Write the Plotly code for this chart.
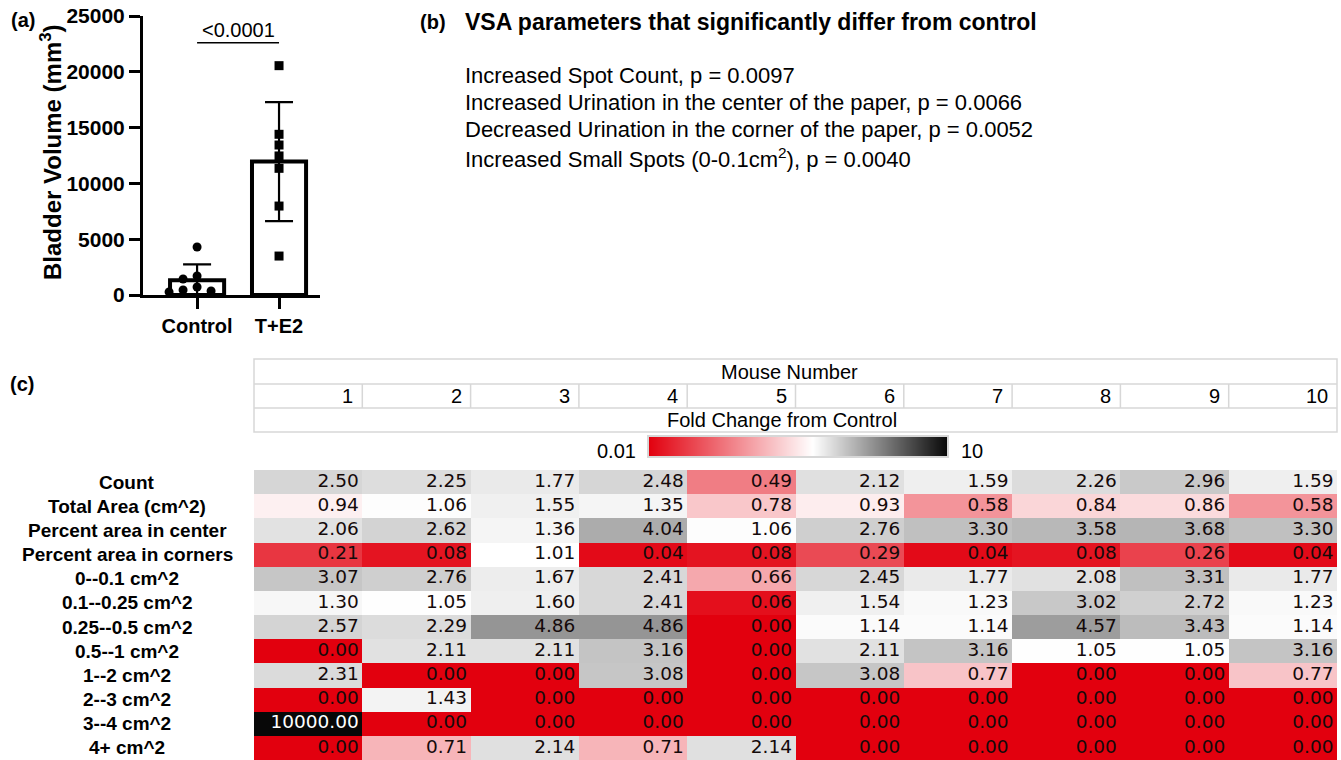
import numpy as np
import plotly.graph_objects as go

W, H = 1341, 760

# ---------------- data ----------------
GROUPS = ["Control", "T+E2"]
CONTROL_VOLUME = [4300, 1700, 1430, 720, 450, 360, 270]
TE2_VOLUME = [20550, 14400, 13440, 12460, 11350, 7970, 3490]
P_VALUE_LABEL = "<0.0001"
Y_TICKS = [0, 5000, 10000, 15000, 20000, 25000]

VSA_TITLE = "VSA parameters that significantly differ from control"
VSA_FINDINGS = [
    "Increased Spot Count, p = 0.0097",
    "Increased Urination in the center of the paper, p = 0.0066",
    "Decreased Urination in the corner of the paper, p = 0.0052",
    "Increased Small Spots (0-0.1cm<sup>2</sup>), p = 0.0040",
]

MOUSE_NUMBERS = ["1", "2", "3", "4", "5", "6", "7", "8", "9", "10"]
VSA_PARAMETERS = [
    "Count",
    "Total Area (cm^2)",
    "Percent area in center",
    "Percent area in corners",
    "0--0.1 cm^2",
    "0.1--0.25 cm^2",
    "0.25--0.5 cm^2",
    "0.5--1 cm^2",
    "1--2 cm^2",
    "2--3 cm^2",
    "3--4 cm^2",
    "4+ cm^2",
]
FOLD_CHANGE = [
    [2.50, 2.25, 1.77, 2.48, 0.49, 2.12, 1.59, 2.26, 2.96, 1.59],
    [0.94, 1.06, 1.55, 1.35, 0.78, 0.93, 0.58, 0.84, 0.86, 0.58],
    [2.06, 2.62, 1.36, 4.04, 1.06, 2.76, 3.30, 3.58, 3.68, 3.30],
    [0.21, 0.08, 1.01, 0.04, 0.08, 0.29, 0.04, 0.08, 0.26, 0.04],
    [3.07, 2.76, 1.67, 2.41, 0.66, 2.45, 1.77, 2.08, 3.31, 1.77],
    [1.30, 1.05, 1.60, 2.41, 0.06, 1.54, 1.23, 3.02, 2.72, 1.23],
    [2.57, 2.29, 4.86, 4.86, 0.00, 1.14, 1.14, 4.57, 3.43, 1.14],
    [0.00, 2.11, 2.11, 3.16, 0.00, 2.11, 3.16, 1.05, 1.05, 3.16],
    [2.31, 0.00, 0.00, 3.08, 0.00, 3.08, 0.77, 0.00, 0.00, 0.77],
    [0.00, 1.43, 0.00, 0.00, 0.00, 0.00, 0.00, 0.00, 0.00, 0.00],
    [10000.00, 0.00, 0.00, 0.00, 0.00, 0.00, 0.00, 0.00, 0.00, 0.00],
    [0.00, 0.71, 2.14, 0.71, 2.14, 0.00, 0.00, 0.00, 0.00, 0.00],
]
SCALE_LOW_LABEL, SCALE_HIGH_LABEL = "0.01", "10"

# ---------------- styling ----------------
ARIAL = "Liberation Sans, Arial, Helvetica, sans-serif"
VERDANA = "DejaVu Sans, Verdana, sans-serif"
RED = "rgb(226,0,14)"
BLACK = "rgb(8,8,8)"
GRID = "rgb(215,215,215)"


def fx(p):
    return p / W


def fy(p):
    return 1 - p / H


fig = go.Figure()

# ---------------- panel (a): bladder volume ----------------
A_LEFT, A_RIGHT, A_TOP, A_BOTTOM = 143, 320, 16, 295
A_XRANGE = [-0.66, 1.5]
A_YMAX = 25000
px_per_unit_y = (A_BOTTOM - A_TOP) / A_YMAX
units_per_px_x = (A_XRANGE[1] - A_XRANGE[0]) / (A_RIGHT - A_LEFT)


def swarm_offsets(values, diameter=9.0, step=7.0):
    """Greedy beeswarm: shift each dot sideways until it no longer overlaps."""
    placed, offs = [], []
    cands = sorted({k * step for k in range(-5, 6)}, key=lambda v: (abs(v), v))
    for v in values:
        ypx = v * px_per_unit_y
        chosen = cands[-1]
        for c in cands:
            if all((c - a) ** 2 + (ypx - b) ** 2 >= diameter ** 2 for a, b in placed):
                chosen = c
                break
        placed.append((chosen, ypx))
        offs.append(chosen * units_per_px_x)
    return offs


means = [float(np.mean(CONTROL_VOLUME)), float(np.mean(TE2_VOLUME))]
sds = [float(np.std(CONTROL_VOLUME, ddof=1)), float(np.std(TE2_VOLUME, ddof=1))]

fig.add_trace(go.Bar(
    x=[0, 1], y=means, width=0.66,
    marker=dict(color="white", line=dict(color="black", width=4)),
    error_y=dict(type="data", array=sds, visible=True, color="black",
                 thickness=2.2, width=14),
    xaxis="x", yaxis="y", hoverinfo="skip",
))
fig.add_trace(go.Scatter(
    x=[0 + o for o in swarm_offsets(CONTROL_VOLUME)], y=CONTROL_VOLUME,
    mode="markers", marker=dict(symbol="circle", size=9, color="black"),
    xaxis="x", yaxis="y", hoverinfo="skip",
))
fig.add_trace(go.Scatter(
    x=[1 + o for o in swarm_offsets(TE2_VOLUME)], y=TE2_VOLUME,
    mode="markers", marker=dict(symbol="square", size=9, color="black"),
    xaxis="x", yaxis="y", hoverinfo="skip",
))

sig_y = max(TE2_VOLUME) * 1.1
fig.add_shape(type="line", xref="x", yref="y", x0=0, x1=1, y0=sig_y, y1=sig_y,
              line=dict(color="black", width=1.5))
fig.add_annotation(x=0.5, y=sig_y, xref="x", yref="y", text=P_VALUE_LABEL,
                   showarrow=False, yanchor="bottom", yshift=0,
                   font=dict(family=ARIAL, size=20, color="black"))
fig.add_annotation(x=fx(51), y=fy(152), xref="paper", yref="paper",
                   text="<b>Bladder Volume (mm<sup>3</sup>)</b>", textangle=-90,
                   showarrow=False, xanchor="center", yanchor="middle",
                   font=dict(family=ARIAL, size=24, color="black"))

# ---------------- panel (b): VSA summary ----------------
fig.add_annotation(x=fx(463), y=fy(22), xref="paper", yref="paper",
                   text="<b>" + VSA_TITLE + "</b>", showarrow=False,
                   xanchor="left", yanchor="middle",
                   font=dict(family=ARIAL, size=23, color="black"))
for i, line in enumerate(VSA_FINDINGS):
    fig.add_annotation(x=fx(463), y=fy(75 + 27.5 * i), xref="paper", yref="paper",
                       text=line, showarrow=False, xanchor="left", yanchor="middle",
                       font=dict(family=ARIAL, size=22, color="black"))

# panel letters
for letter, (lx, ly) in {"(a)": (9, 20), "(b)": (418, 22), "(c)": (8, 384)}.items():
    fig.add_annotation(x=fx(lx), y=fy(ly), xref="paper", yref="paper",
                       text="<b>" + letter + "</b>", showarrow=False,
                       xanchor="left", yanchor="middle",
                       font=dict(family=ARIAL, size=20, color="black"))

# ---------------- panel (c): fold-change heatmap ----------------
T_LEFT, T_RIGHT = 254, 1337
HM_TOP = 470
z = np.array(FOLD_CHANGE, dtype=float)
n_rows, n_cols = z.shape

fig.add_trace(go.Heatmap(
    z=z, x=list(range(n_cols)), y=list(range(n_rows)),
    zmin=0, zmax=10,
    colorscale=[[0, RED], [0.1, "white"], [1, BLACK]],
    showscale=False, xaxis="x3", yaxis="y3", hoverinfo="skip",
))

col_px = (T_RIGHT - T_LEFT) / n_cols
pad = 3.5 / col_px
cell_x, cell_y, cell_txt, cell_col = [], [], [], []
for r in range(n_rows):
    for c in range(n_cols):
        v = z[r, c]
        cell_x.append(c + 0.5 - pad)
        cell_y.append(r)
        cell_txt.append(f"{v:.2f}")
        cell_col.append("white" if v >= 10 else "rgb(20,10,10)")
fig.add_trace(go.Scatter(
    x=cell_x, y=cell_y, text=cell_txt, mode="text", textposition="middle left",
    textfont=dict(family=VERDANA, size=18.5, color=cell_col),
    xaxis="x3", yaxis="y3", hoverinfo="skip",
))

for r, name in enumerate(VSA_PARAMETERS):
    fig.add_annotation(x=fx(127), y=r, xref="paper", yref="y3",
                       text="<b>" + name + "</b>", showarrow=False,
                       xanchor="center", yanchor="middle",
                       font=dict(family=ARIAL, size=19, color="black"))

# header table above the heatmap
HDR_TOP, HDR_R1, HDR_R2, HDR_BOT = 359, 384, 408, 432
fig.add_shape(type="rect", xref="paper", yref="paper",
              x0=fx(T_LEFT), x1=fx(T_RIGHT), y0=fy(HDR_BOT), y1=fy(HDR_TOP),
              line=dict(color=GRID, width=1.5))
for yy in (HDR_R1, HDR_R2):
    fig.add_shape(type="line", xref="paper", yref="paper",
                  x0=fx(T_LEFT), x1=fx(T_RIGHT), y0=fy(yy), y1=fy(yy),
                  line=dict(color=GRID, width=1.5))
for c in range(1, n_cols):
    fig.add_shape(type="line", xref="x3", yref="paper",
                  x0=c - 0.5, x1=c - 0.5, y0=fy(HDR_R2), y1=fy(HDR_R1),
                  line=dict(color=GRID, width=1.5))
for c, label in enumerate(MOUSE_NUMBERS):
    fig.add_annotation(x=c + 0.5 - 7 / col_px, y=fy((HDR_R1 + HDR_R2) / 2),
                       xref="x3", yref="paper", text=label, showarrow=False,
                       xanchor="right", yanchor="middle",
                       font=dict(family=ARIAL, size=20, color="black"))
fig.add_annotation(x=fx(789), y=fy((HDR_TOP + HDR_R1) / 2), xref="paper", yref="paper",
                   text="Mouse Number", showarrow=False,
                   font=dict(family=ARIAL, size=20, color="black"))
fig.add_annotation(x=fx(782), y=fy((HDR_R2 + HDR_BOT) / 2), xref="paper", yref="paper",
                   text="Fold Change from Control", showarrow=False,
                   font=dict(family=ARIAL, size=20, color="black"))

# colour key
CB_L, CB_R, CB_T, CB_B = 648, 948, 436, 457
grad = np.linspace(0, 1, 300)
fig.add_trace(go.Heatmap(
    z=[grad], x=grad, y=[0], zmin=0, zmax=1,
    colorscale=[[0, RED], [0.55, "white"], [1, BLACK]],
    showscale=False, xaxis="x4", yaxis="y4", hoverinfo="skip",
))
fig.add_shape(type="rect", xref="paper", yref="paper",
              x0=fx(CB_L), x1=fx(CB_R), y0=fy(CB_B), y1=fy(CB_T),
              line=dict(color=GRID, width=2))
fig.add_annotation(x=fx(CB_L - 10), y=fy(451), xref="paper", yref="paper",
                   text=SCALE_LOW_LABEL, showarrow=False, xanchor="right",
                   font=dict(family=ARIAL, size=20, color="black"))
fig.add_annotation(x=fx(CB_R + 11), y=fy(451), xref="paper", yref="paper",
                   text=SCALE_HIGH_LABEL, showarrow=False, xanchor="left",
                   font=dict(family=ARIAL, size=20, color="black"))

# ---------------- layout ----------------
hidden = dict(visible=False, showgrid=False, zeroline=False, automargin=False)
fig.update_layout(
    width=W, height=H,
    margin=dict(l=0, r=0, t=0, b=0, autoexpand=False),
    paper_bgcolor="white", plot_bgcolor="white",
    showlegend=False,
    xaxis=dict(domain=[fx(A_LEFT), fx(A_RIGHT)], range=A_XRANGE,
               tickvals=[0, 1], ticktext=GROUPS,
               showline=True, linecolor="black", linewidth=3,
               ticks="outside", ticklen=11, tickwidth=3, tickcolor="black",
               tickfont=dict(family=ARIAL, size=20, color="black", weight="bold"),
               showgrid=False, zeroline=False, fixedrange=True, automargin=False),
    yaxis=dict(domain=[fy(A_BOTTOM), fy(A_TOP)], range=[0, A_YMAX],
               tickvals=Y_TICKS, tickformat="d",
               showline=True, linecolor="black", linewidth=3,
               ticks="outside", ticklen=11, tickwidth=3, tickcolor="black",
               tickfont=dict(family=ARIAL, size=21, color="black", weight="bold"),
               showgrid=False, zeroline=False, fixedrange=True, automargin=False),
    xaxis3=dict(domain=[fx(T_LEFT), fx(T_RIGHT)], range=[-0.5, n_cols - 0.5], **hidden),
    yaxis3=dict(domain=[0, fy(HM_TOP)], range=[n_rows - 0.5, -0.5], **hidden),
    xaxis4=dict(domain=[fx(CB_L), fx(CB_R)], range=[0, 1], **hidden),
    yaxis4=dict(domain=[fy(CB_B), fy(CB_T)], range=[-0.5, 0.5], **hidden),
)

fig.write_html("out.html")
